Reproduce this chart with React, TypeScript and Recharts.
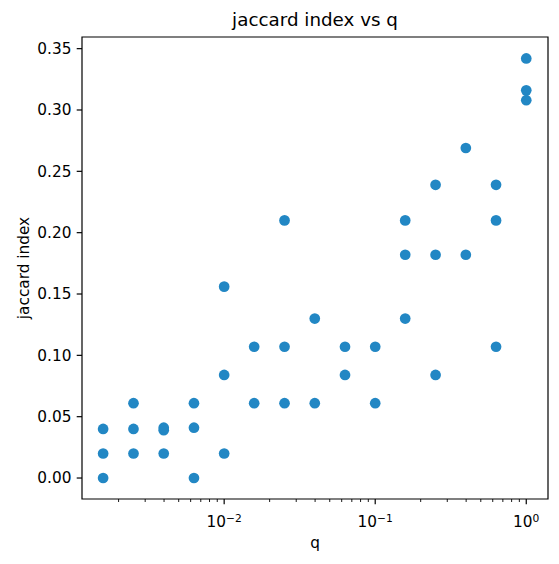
import React from "react";
import { ScatterChart, Scatter, XAxis, YAxis, ReferenceArea } from "recharts";

// q values (log-spaced) and measured jaccard index, one entry per point
const qValues = [
  0.00158, 0.00158, 0.00158,
  0.00251, 0.00251, 0.00251,
  0.00398, 0.00398, 0.00398,
  0.00631, 0.00631, 0.00631,
  0.01, 0.01, 0.01,
  0.0158, 0.0158,
  0.0251, 0.0251, 0.0251,
  0.0398, 0.0398,
  0.0631, 0.0631,
  0.1, 0.1,
  0.158, 0.158, 0.158,
  0.251, 0.251, 0.251,
  0.398, 0.398,
  0.631, 0.631, 0.631,
  1.0, 1.0, 1.0,
];
const jaccardValues = [
  0.04, 0.02, 0.0,
  0.061, 0.04, 0.02,
  0.039, 0.041, 0.02,
  0.061, 0.041, 0.0,
  0.156, 0.084, 0.02,
  0.107, 0.061,
  0.21, 0.107, 0.061,
  0.13, 0.061,
  0.107, 0.084,
  0.107, 0.061,
  0.21, 0.182, 0.13,
  0.239, 0.182, 0.084,
  0.269, 0.182,
  0.239, 0.21, 0.107,
  0.342, 0.316, 0.308,
];

const xMajorTicks = [0.01, 0.1, 1];
const xMinorTicks = [
  0.002, 0.003, 0.004, 0.005, 0.006, 0.007, 0.008, 0.009,
  0.02, 0.03, 0.04, 0.05, 0.06, 0.07, 0.08, 0.09,
  0.2, 0.3, 0.4, 0.5, 0.6, 0.7, 0.8, 0.9,
];
const yTicks = [0, 0.05, 0.1, 0.15, 0.2, 0.25, 0.3, 0.35];
const xDomain = [0.001145, 1.393];
const yDomain = [-0.0171, 0.3595];

const title = "jaccard index vs q";
const xLabel = "q";
const yLabel = "jaccard index";

const data = qValues.map((q, i) => ({ q, jaccard: jaccardValues[i] }));

const W = 559;
const H = 564;
const plot = { left: 82, right: 548, top: 37, bottom: 499 };
const font = "DejaVu Sans";
const tickFont = 15.3;
const dotColor = "#2287c4";

function LogTick(props: any) {
  const { x, y, payload } = props;
  const v = payload.value as number;
  const major = xMajorTicks.includes(v);
  if (!major) {
    return <line x1={x} x2={x} y1={y} y2={y + 3} stroke="#000" strokeWidth={0.9} />;
  }
  const exp = Math.round(Math.log10(v));
  const expText = exp < 0 ? "\u2212" + Math.abs(exp) : String(exp);
  return (
    <g>
      <line x1={x} x2={x} y1={y} y2={y + 5.3} stroke="#000" strokeWidth={1.2} />
      <text
        x={x}
        y={y + 28}
        textAnchor="middle"
        fontFamily={font}
        fontSize={tickFont}
        fill="#000"
      >
        10
        <tspan dy={-5} fontSize={10.7}>
          {expText}
        </tspan>
      </text>
    </g>
  );
}

function Dot(props: any) {
  return <circle cx={props.cx} cy={props.cy} r={5.35} fill={dotColor} />;
}

export default function App() {
  const midX = (plot.left + plot.right) / 2;
  const midY = (plot.top + plot.bottom) / 2;
  return (
    <div style={{ position: "absolute", left: 0, top: 0, width: W, height: H, background: "#fff" }}>
      <ScatterChart
        width={W}
        height={H}
        margin={{ top: plot.top, right: W - plot.right, bottom: 0, left: 0 }}
      >
        <XAxis
          dataKey="q"
          type="number"
          scale="log"
          domain={xDomain}
          allowDataOverflow
          ticks={[...xMajorTicks, ...xMinorTicks]}
          interval={0}
          height={H - plot.bottom}
          axisLine={false}
          tickLine={false}
          tickSize={0}
          tickMargin={0}
          tick={<LogTick />}
        />
        <YAxis
          dataKey="jaccard"
          type="number"
          domain={yDomain}
          allowDataOverflow
          ticks={yTicks}
          interval={0}
          width={plot.left}
          axisLine={false}
          tickSize={5.3}
          tickMargin={5.3}
          tickLine={{ stroke: "#000", strokeWidth: 1.2 }}
          tickFormatter={(v: number) => v.toFixed(2)}
          tick={{ fill: "#000", fontSize: tickFont, fontFamily: font }}
        />
        <ReferenceArea
          x1={xDomain[0]}
          x2={xDomain[1]}
          y1={yDomain[0]}
          y2={yDomain[1]}
          fill="none"
          stroke="#000"
          strokeWidth={1.2}
          ifOverflow="visible"
        />
        <Scatter data={data} fill={dotColor} shape={<Dot />} isAnimationActive={false} />
      </ScatterChart>
      <svg
        width={W}
        height={H}
        style={{ position: "absolute", left: 0, top: 0, pointerEvents: "none" }}
      >
        <text x={midX} y={26} textAnchor="middle" fontFamily={font} fontSize={18.3} fill="#000">
          {title}
        </text>
        <text x={midX} y={548} textAnchor="middle" fontFamily={font} fontSize={tickFont} fill="#000">
          {xLabel}
        </text>
        <text
          x={29}
          y={midY}
          textAnchor="middle"
          fontFamily={font}
          fontSize={tickFont}
          fill="#000"
          transform={`rotate(-90, 29, ${midY})`}
        >
          {yLabel}
        </text>
      </svg>
    </div>
  );
}
